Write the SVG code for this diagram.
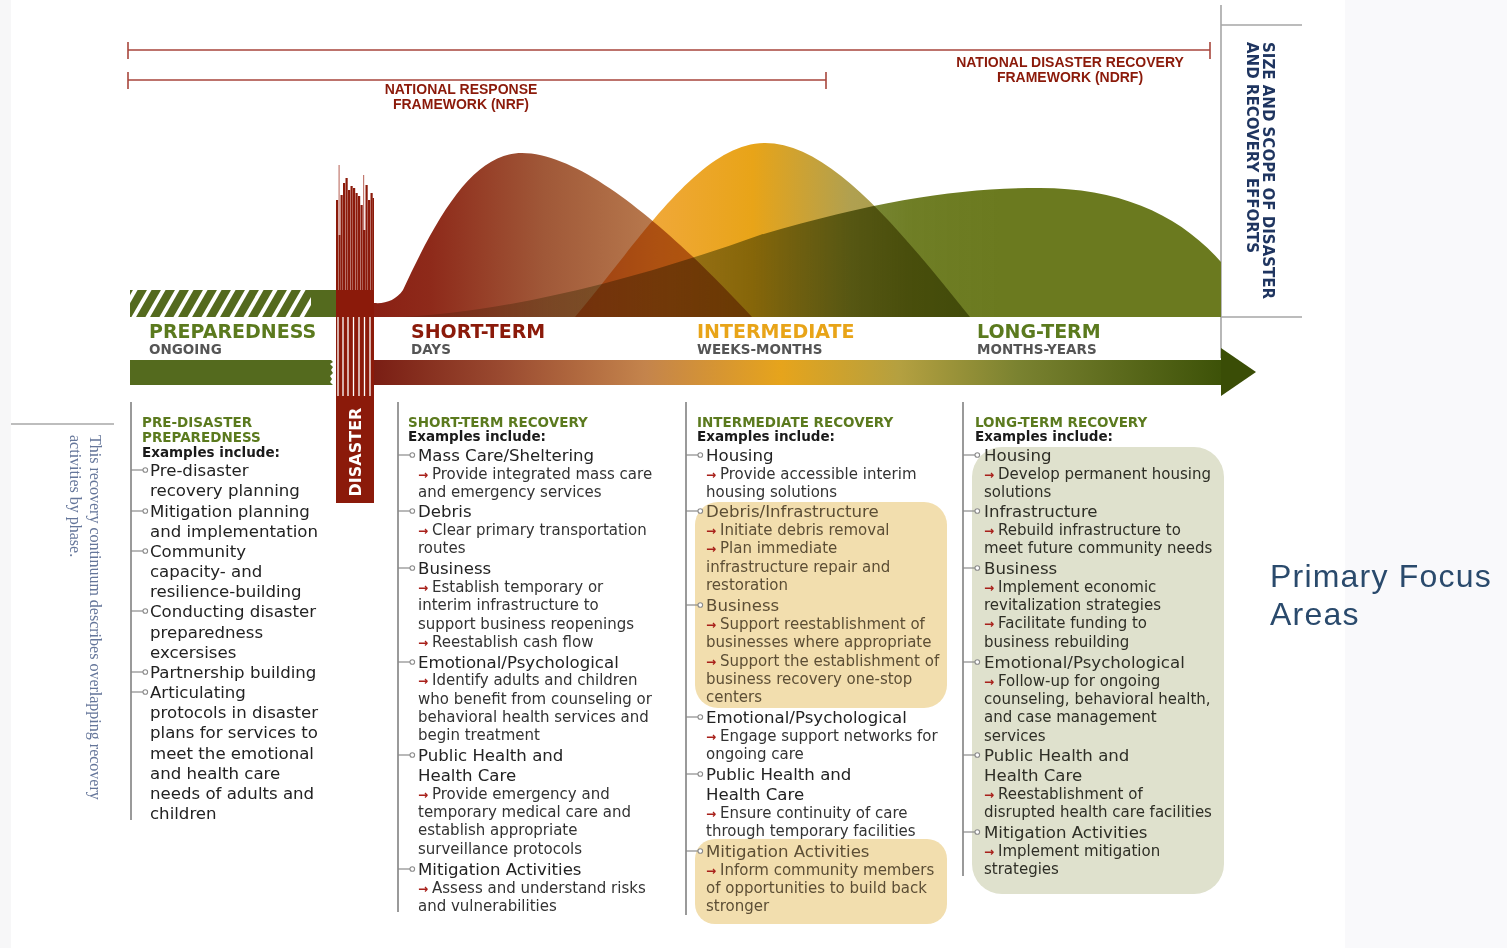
<svg xmlns="http://www.w3.org/2000/svg" width="1507" height="948" viewBox="0 0 1507 948">
<defs>
<style>
.fw{font-family:"Liberation Sans",Arial,sans-serif;font-weight:bold;font-size:14px;fill:#8b1a0a;text-anchor:middle}
.br{stroke:#a8463c;stroke-width:1.6;fill:none}
.ph{font-family:"DejaVu Sans",Verdana,sans-serif;font-weight:bold;font-size:19px}
.phs{font-family:"DejaVu Sans",Verdana,sans-serif;font-weight:bold;font-size:13.5px;fill:#555}
.hd{font-family:"DejaVu Sans",Verdana,sans-serif;font-weight:bold;font-size:13.5px;fill:#5b7a1e}
.ex{font-family:"DejaVu Sans",Verdana,sans-serif;font-weight:bold;font-size:13.5px;fill:#1a1a1a}
.it{font-family:"DejaVu Sans",Verdana,sans-serif;font-size:16.6px;fill:#222}
.sb{font-family:"DejaVu Sans",Verdana,sans-serif;font-size:15px;fill:#333}
.ar{fill:#a8201a;font-size:12px;font-weight:bold}
.tan{fill:#5c4e35}
.grn{fill:#2e2e26}
.vl{stroke:#9a9a9a;stroke-width:2}
.gl{stroke:#a6a6a6;stroke-width:1.6}
.blend{mix-blend-mode:multiply}
.note{font-family:"Liberation Serif","Times New Roman",serif;font-size:16px;fill:#65769a}
.side{font-family:"DejaVu Sans",Verdana,sans-serif;font-weight:bold;font-size:15px;fill:#1f3560}
</style>
<g id="bul"><line x1="0" y1="0" x2="12" y2="0" stroke="#8a8a8a" stroke-width="1.2"/><circle cx="14.3" cy="0" r="2.3" fill="#fff" stroke="#8a8a8a" stroke-width="1.1"/></g>
<linearGradient id="gShort" gradientUnits="userSpaceOnUse" x1="374" y1="0" x2="752" y2="0">
<stop offset="0" stop-color="#8a2014"/><stop offset="0.15" stop-color="#8e2a1a"/><stop offset="0.45" stop-color="#a05838"/><stop offset="0.75" stop-color="#b87a4e"/><stop offset="1" stop-color="#c8904e"/>
</linearGradient>
<linearGradient id="gInter" gradientUnits="userSpaceOnUse" x1="575" y1="0" x2="970" y2="0">
<stop offset="0" stop-color="#f2a850"/><stop offset="0.2" stop-color="#f0a838"/><stop offset="0.45" stop-color="#e8a418"/><stop offset="0.7" stop-color="#b0a050"/><stop offset="1" stop-color="#9a9a48"/>
</linearGradient>
<linearGradient id="gLong" gradientUnits="userSpaceOnUse" x1="400" y1="0" x2="1000" y2="0">
<stop offset="0" stop-color="#6b7a1f" stop-opacity="0.2"/><stop offset="0.5" stop-color="#6b7a1f" stop-opacity="0.65"/><stop offset="0.85" stop-color="#6b7a1f" stop-opacity="0.97"/><stop offset="1" stop-color="#6b7a1f" stop-opacity="1"/>
</linearGradient>
<linearGradient id="gArrow" gradientUnits="userSpaceOnUse" x1="374" y1="0" x2="1222" y2="0">
<stop offset="0" stop-color="#7a1e14"/><stop offset="0.15" stop-color="#9a4a30"/><stop offset="0.32" stop-color="#c4844c"/><stop offset="0.48" stop-color="#e6a41c"/><stop offset="0.62" stop-color="#b4a040"/><stop offset="0.76" stop-color="#7a8230"/><stop offset="1" stop-color="#3d5208"/>
</linearGradient>
<clipPath id="hatchClip"><rect x="130" y="290" width="181" height="27"/></clipPath>
</defs>

<rect x="0" y="0" width="1507" height="948" fill="#ffffff"/>
<rect x="0" y="0" width="11" height="948" fill="#f7f7f8"/>
<rect x="1345" y="0" width="162" height="948" fill="#f9f9fb"/>

<g id="frameworks">
<path class="br" d="M128,50 H1210 M128,42 V59 M1210,42 V59"/>
<path class="br" d="M128,80 H826 M128,72 V89 M826,72 V89"/>
<text class="fw" x="461" y="94">NATIONAL RESPONSE</text>
<text class="fw" x="461" y="109">FRAMEWORK (NRF)</text>
<text class="fw" x="1070" y="67">NATIONAL DISASTER RECOVERY</text>
<text class="fw" x="1070" y="82">FRAMEWORK (NDRF)</text>
</g>

<g id="scale-axis">
<line class="gl" x1="1221" y1="5" x2="1221" y2="358"/>
<line class="gl" x1="1221" y1="25" x2="1302" y2="25"/>
<line class="gl" x1="1221" y1="317" x2="1302" y2="317"/>
<text class="side" transform="translate(1263,42) rotate(90)">SIZE AND SCOPE OF DISASTER</text>
<text class="side" transform="translate(1247,42) rotate(90)">AND RECOVERY EFFORTS</text>
</g>

<g id="curves" style="isolation:isolate">
<path class="blend" fill="url(#gLong)" d="M400,317 C500,312 620,285 760,235 C880,200 960,188 1040,188 C1120,188 1180,215 1221,262 L1221,317 Z"/>
<path class="blend" fill="url(#gInter)" d="M575,317 C640,240 700,143 765,143 C830,143 900,230 970,317 Z"/>
<path class="blend" fill="url(#gShort)" d="M374,317 L374,303 C386,304 396,300 403,290 C440,210 475,153 522,153 C590,153 690,250 752,317 Z"/>
</g>

<g id="preparedness-bar">
<rect x="130" y="290" width="206" height="27" fill="#546a1e"/>
<g clip-path="url(#hatchClip)" stroke="#fff" stroke-width="4">
<line x1="118" y1="320" x2="137" y2="287"/><line x1="132" y1="320" x2="151" y2="287"/><line x1="146" y1="320" x2="165" y2="287"/><line x1="160" y1="320" x2="179" y2="287"/><line x1="174" y1="320" x2="193" y2="287"/><line x1="188" y1="320" x2="207" y2="287"/><line x1="202" y1="320" x2="221" y2="287"/><line x1="216" y1="320" x2="235" y2="287"/><line x1="230" y1="320" x2="249" y2="287"/><line x1="244" y1="320" x2="263" y2="287"/><line x1="258" y1="320" x2="277" y2="287"/><line x1="272" y1="320" x2="291" y2="287"/><line x1="286" y1="320" x2="305" y2="287"/><line x1="300" y1="320" x2="319" y2="287"/>
</g>
<path fill="#546a1e" d="M130,360 H331 L333,362 L330,364 L333,367 L331,370 L333,373 L330,376 L332,379 L330,382 L333,385 H130 Z"/>
</g>

<g id="timeline-arrow">
<rect x="374" y="360" width="848" height="25" fill="url(#gArrow)"/>
<polygon points="1221,348 1256,372 1221,396" fill="#3a4d06"/>
</g>

<g id="phase-labels">
<text class="ph" x="149" y="338" fill="#5b7a1e">PREPAREDNESS</text>
<text class="phs" x="149" y="354">ONGOING</text>
<text class="ph" x="411" y="338" fill="#8b1a0a">SHORT-TERM</text>
<text class="phs" x="411" y="354">DAYS</text>
<text class="ph" x="697" y="338" fill="#e8a418">INTERMEDIATE</text>
<text class="phs" x="697" y="354">WEEKS-MONTHS</text>
<text class="ph" x="977" y="338" fill="#5b7a1e">LONG-TERM</text>
<text class="phs" x="977" y="354">MONTHS-YEARS</text>
</g>

<g id="disaster">
<rect x="336" y="290" width="38" height="213" fill="#8b1a0a"/>
<g fill="#8b1a0a">
<rect x="336" y="200" width="2.2" height="90"/><rect x="340.5" y="195" width="2.2" height="95"/><rect x="343" y="183" width="2.2" height="107"/><rect x="345.5" y="178" width="2.2" height="112"/><rect x="348" y="190" width="2.2" height="100"/><rect x="350.5" y="186" width="2.2" height="104"/><rect x="353" y="188" width="2.2" height="102"/><rect x="355.5" y="193" width="2.2" height="97"/><rect x="358" y="196" width="2.2" height="94"/><rect x="360.5" y="205" width="2.2" height="85"/><rect x="365.5" y="185" width="2.2" height="105"/><rect x="368" y="200" width="2.2" height="90"/><rect x="370.5" y="193" width="2.2" height="97"/><rect x="372.5" y="198" width="1.5" height="92"/>
<rect x="338.5" y="235" width="2" height="55"/><rect x="363" y="230" width="2.5" height="60"/>
</g>
<g fill="#c27a70">
<rect x="338.5" y="165" width="1.2" height="70"/><rect x="363" y="175" width="1.2" height="55"/>
</g>
<g stroke="#fff" stroke-width="1.3">
<line x1="338" y1="317" x2="338" y2="396"/><line x1="343" y1="317" x2="343" y2="396"/><line x1="348" y1="317" x2="348" y2="396"/><line x1="353.5" y1="317" x2="353.5" y2="396"/><line x1="359" y1="317" x2="359" y2="396"/><line x1="364.5" y1="317" x2="364.5" y2="396"/><line x1="370" y1="317" x2="370" y2="396"/>
</g>
<text transform="translate(361,452) rotate(-90)" font-family="DejaVu Sans, Verdana, sans-serif" font-weight="bold" font-size="16" fill="#fff" text-anchor="middle">DISASTER</text>
</g>

<g id="note">
<line x1="11" y1="424" x2="114" y2="424" stroke="#bdbdbd" stroke-width="2"/>
<text class="note" transform="translate(90,435) rotate(90)">This recovery continuum describes overlapping recovery</text>
<text class="note" transform="translate(70,435) rotate(90)">activities by phase.</text>
</g>

<g id="focus-boxes">
<rect x="695" y="502" width="252" height="206" rx="23" fill="#f2deae"/>
<rect x="695" y="839" width="252" height="85" rx="20" fill="#f2deae"/>
<rect x="972" y="447" width="252" height="447" rx="30" fill="#dfe1cd"/>
</g>

<g id="connectors">
<line class="vl" x1="131" y1="402" x2="131" y2="820"/>
<line class="vl" x1="398" y1="402" x2="398" y2="912"/>
<line class="vl" x1="686" y1="402" x2="686" y2="915"/>
<line class="vl" x1="963" y1="402" x2="963" y2="876"/>
<use href="#bul" x="131" y="470"/><use href="#bul" x="131" y="511"/><use href="#bul" x="131" y="551"/><use href="#bul" x="131" y="611"/><use href="#bul" x="131" y="672"/><use href="#bul" x="131" y="692"/>
<use href="#bul" x="398" y="455"/><use href="#bul" x="398" y="511"/><use href="#bul" x="398" y="568"/><use href="#bul" x="398" y="662"/><use href="#bul" x="398" y="755"/><use href="#bul" x="398" y="869"/>
<use href="#bul" x="686" y="455"/><use href="#bul" x="686" y="511"/><use href="#bul" x="686" y="605"/><use href="#bul" x="686" y="717"/><use href="#bul" x="686" y="774"/><use href="#bul" x="686" y="851"/>
<use href="#bul" x="963" y="455"/><use href="#bul" x="963" y="511"/><use href="#bul" x="963" y="568"/><use href="#bul" x="963" y="662"/><use href="#bul" x="963" y="755"/><use href="#bul" x="963" y="832"/>
</g>

<g id="col-preparedness">
<text class="hd" x="142" y="427">PRE-DISASTER</text>
<text class="hd" x="142" y="442">PREPAREDNESS</text>
<text class="ex" x="142" y="457">Examples include:</text>
<text class="it" x="150" y="476">Pre-disaster</text>
<text class="it" x="150" y="496">recovery planning</text>
<text class="it" x="150" y="517">Mitigation planning</text>
<text class="it" x="150" y="537">and implementation</text>
<text class="it" x="150" y="557">Community</text>
<text class="it" x="150" y="577">capacity- and</text>
<text class="it" x="150" y="597">resilience-building</text>
<text class="it" x="150" y="617">Conducting disaster</text>
<text class="it" x="150" y="638">preparedness</text>
<text class="it" x="150" y="658">excersises</text>
<text class="it" x="150" y="678">Partnership building</text>
<text class="it" x="150" y="698">Articulating</text>
<text class="it" x="150" y="718">protocols in disaster</text>
<text class="it" x="150" y="738">plans for services to</text>
<text class="it" x="150" y="759">meet the emotional</text>
<text class="it" x="150" y="779">and health care</text>
<text class="it" x="150" y="799">needs of adults and</text>
<text class="it" x="150" y="819">children</text>
</g>

<g id="col-short-term">
<text class="hd" x="408" y="427">SHORT-TERM RECOVERY</text>
<text class="ex" x="408" y="441">Examples include:</text>
<text class="it" x="418" y="461">Mass Care/Sheltering</text>
<text class="sb" x="418" y="479"><tspan class="ar">→</tspan><tspan x="432">Provide integrated mass care</tspan></text>
<text class="sb" x="418" y="497">and emergency services</text>
<text class="it" x="418" y="517">Debris</text>
<text class="sb" x="418" y="535"><tspan class="ar">→</tspan><tspan x="432">Clear primary transportation</tspan></text>
<text class="sb" x="418" y="553">routes</text>
<text class="it" x="418" y="574">Business</text>
<text class="sb" x="418" y="592"><tspan class="ar">→</tspan><tspan x="432">Establish temporary or</tspan></text>
<text class="sb" x="418" y="610">interim infrastructure to</text>
<text class="sb" x="418" y="629">support business reopenings</text>
<text class="sb" x="418" y="647"><tspan class="ar">→</tspan><tspan x="432">Reestablish cash flow</tspan></text>
<text class="it" x="418" y="668">Emotional/Psychological</text>
<text class="sb" x="418" y="685"><tspan class="ar">→</tspan><tspan x="432">Identify adults and children</tspan></text>
<text class="sb" x="418" y="704">who benefit from counseling or</text>
<text class="sb" x="418" y="722">behavioral health services and</text>
<text class="sb" x="418" y="740">begin treatment</text>
<text class="it" x="418" y="761">Public Health and</text>
<text class="it" x="418" y="781">Health Care</text>
<text class="sb" x="418" y="799"><tspan class="ar">→</tspan><tspan x="432">Provide emergency and</tspan></text>
<text class="sb" x="418" y="817">temporary medical care and</text>
<text class="sb" x="418" y="835">establish appropriate</text>
<text class="sb" x="418" y="854">surveillance protocols</text>
<text class="it" x="418" y="875">Mitigation Activities</text>
<text class="sb" x="418" y="893"><tspan class="ar">→</tspan><tspan x="432">Assess and understand risks</tspan></text>
<text class="sb" x="418" y="911">and vulnerabilities</text>
</g>

<g id="col-intermediate">
<text class="hd" x="697" y="427">INTERMEDIATE RECOVERY</text>
<text class="ex" x="697" y="441">Examples include:</text>
<text class="it" x="706" y="461">Housing</text>
<text class="sb" x="706" y="479"><tspan class="ar">→</tspan><tspan x="720">Provide accessible interim</tspan></text>
<text class="sb" x="706" y="497">housing solutions</text>
<text class="it tan" x="706" y="517">Debris/Infrastructure</text>
<text class="sb tan" x="706" y="535"><tspan class="ar">→</tspan><tspan x="720">Initiate debris removal</tspan></text>
<text class="sb tan" x="706" y="553"><tspan class="ar">→</tspan><tspan x="720">Plan immediate</tspan></text>
<text class="sb tan" x="706" y="572">infrastructure repair and</text>
<text class="sb tan" x="706" y="590">restoration</text>
<text class="it tan" x="706" y="611">Business</text>
<text class="sb tan" x="706" y="629"><tspan class="ar">→</tspan><tspan x="720">Support reestablishment of</tspan></text>
<text class="sb tan" x="706" y="647">businesses where appropriate</text>
<text class="sb tan" x="706" y="666"><tspan class="ar">→</tspan><tspan x="720">Support the establishment of</tspan></text>
<text class="sb tan" x="706" y="684">business recovery one-stop</text>
<text class="sb tan" x="706" y="702">centers</text>
<text class="it" x="706" y="723">Emotional/Psychological</text>
<text class="sb" x="706" y="741"><tspan class="ar">→</tspan><tspan x="720">Engage support networks for</tspan></text>
<text class="sb" x="706" y="759">ongoing care</text>
<text class="it" x="706" y="780">Public Health and</text>
<text class="it" x="706" y="800">Health Care</text>
<text class="sb" x="706" y="818"><tspan class="ar">→</tspan><tspan x="720">Ensure continuity of care</tspan></text>
<text class="sb" x="706" y="836">through temporary facilities</text>
<text class="it tan" x="706" y="857">Mitigation Activities</text>
<text class="sb tan" x="706" y="875"><tspan class="ar">→</tspan><tspan x="720">Inform community members</tspan></text>
<text class="sb tan" x="706" y="893">of opportunities to build back</text>
<text class="sb tan" x="706" y="911">stronger</text>
</g>

<g id="col-long-term">
<text class="hd" x="975" y="427">LONG-TERM RECOVERY</text>
<text class="ex" x="975" y="441">Examples include:</text>
<text class="it grn" x="984" y="461">Housing</text>
<text class="sb grn" x="984" y="479"><tspan class="ar">→</tspan><tspan x="998">Develop permanent housing</tspan></text>
<text class="sb grn" x="984" y="497">solutions</text>
<text class="it grn" x="984" y="517">Infrastructure</text>
<text class="sb grn" x="984" y="535"><tspan class="ar">→</tspan><tspan x="998">Rebuild infrastructure to</tspan></text>
<text class="sb grn" x="984" y="553">meet future community needs</text>
<text class="it grn" x="984" y="574">Business</text>
<text class="sb grn" x="984" y="592"><tspan class="ar">→</tspan><tspan x="998">Implement economic</tspan></text>
<text class="sb grn" x="984" y="610">revitalization strategies</text>
<text class="sb grn" x="984" y="628"><tspan class="ar">→</tspan><tspan x="998">Facilitate funding to</tspan></text>
<text class="sb grn" x="984" y="647">business rebuilding</text>
<text class="it grn" x="984" y="668">Emotional/Psychological</text>
<text class="sb grn" x="984" y="686"><tspan class="ar">→</tspan><tspan x="998">Follow-up for ongoing</tspan></text>
<text class="sb grn" x="984" y="704">counseling, behavioral health,</text>
<text class="sb grn" x="984" y="722">and case management</text>
<text class="sb grn" x="984" y="741">services</text>
<text class="it grn" x="984" y="761">Public Health and</text>
<text class="it grn" x="984" y="781">Health Care</text>
<text class="sb grn" x="984" y="799"><tspan class="ar">→</tspan><tspan x="998">Reestablishment of</tspan></text>
<text class="sb grn" x="984" y="817">disrupted health care facilities</text>
<text class="it grn" x="984" y="838">Mitigation Activities</text>
<text class="sb grn" x="984" y="856"><tspan class="ar">→</tspan><tspan x="998">Implement mitigation</tspan></text>
<text class="sb grn" x="984" y="874">strategies</text>
</g>

<g id="primary-focus">
<text x="1270" y="587" font-family="Liberation Sans, Arial, sans-serif" font-size="32" letter-spacing="1.2" fill="#2a4a6c">Primary Focus</text>
<text x="1270" y="625" font-family="Liberation Sans, Arial, sans-serif" font-size="32" letter-spacing="1.2" fill="#2a4a6c">Areas</text>
</g>
</svg>
